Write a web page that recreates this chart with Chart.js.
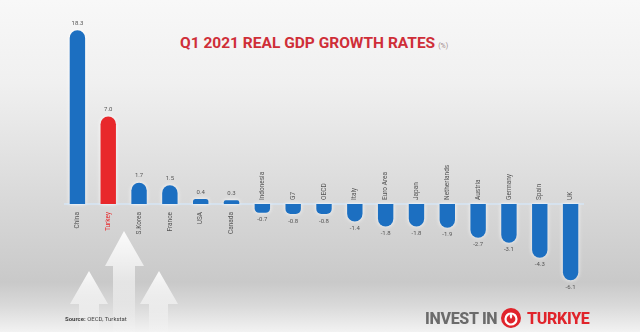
<!DOCTYPE html>
<html>
<head>
<meta charset="utf-8">
<script src="https://cdn.jsdelivr.net/npm/chart.js@4/dist/chart.umd.min.js"></script>
<style>
  html, body { margin: 0; padding: 0; }
  body {
    width: 640px; height: 332px; overflow: hidden; position: relative;
    font-family: Roboto, "Open Sans", sans-serif;
    background: linear-gradient(180deg, #f8f8f8 0%, #f0f0f0 25%, #d9d9d9 60%, #c9c9c9 85%, #d9d9d9 92%, #f2f2f2 100%);
  }
  #deco { position: absolute; left: 0; top: 0; }
  #chart { position: absolute; left: 0; top: 0; }
  .title {
    position: absolute; left: 180px; top: 34px; font-size: 15.5px; font-weight: 700;
    color: #cf2e38; white-space: nowrap;
  }
  .title span { font-size: 7px; font-weight: 400; color: #a08a8a; margin-left: 3px; }
  .source { position: absolute; left: 65px; top: 315px; font-size: 6px; color: #444; }
  .source b { font-weight: 700; }
  .logo { position: absolute; left: 425px; top: 309px; font-size: 16px; font-weight: 800; white-space: nowrap; letter-spacing: -0.3px; }
  .logo .gray { color: #6b6b6b; }
  .logo .red { color: #e0242b; position: absolute; left: 102px; top: 0; }
</style>
</head>
<body>
<svg id="deco" width="640" height="332">
  <defs>
    <linearGradient id="arrowFade" x1="0" y1="0" x2="0" y2="1">
      <stop offset="0" stop-color="#ffffff" stop-opacity="0.9"/>
      <stop offset="0.6" stop-color="#ffffff" stop-opacity="0.45"/>
      <stop offset="1" stop-color="#ffffff" stop-opacity="0.05"/>
    </linearGradient>
  </defs>
  <polygon points="124,231 144,266 135,266 135,332 113,332 113,266 105,266" fill="url(#arrowFade)"/>
  <polygon points="89,271 108,304 99,304 99,332 79,332 79,304 70,304" fill="url(#arrowFade)"/>
  <polygon points="159,271 178,304 168,304 168,332 149,332 149,304 140,304" fill="url(#arrowFade)"/>
  <circle cx="511" cy="318" r="10" fill="#e0242b"/>
  <circle cx="511" cy="319" r="5.5" fill="none" stroke="#ffffff" stroke-width="2.2"/>
  <path d="M511 313 q2.5 3 0 6 q-2.5 -3 0 -6z" fill="#ffffff"/>
</svg>
<div class="title">Q1 2021 REAL GDP GROWTH RATES<span>(%)</span></div>
<canvas id="chart" width="640" height="332"></canvas>
<div class="source"><b>Source:</b> OECD, Turkstat</div>
<div class="logo"><span class="gray">INVEST IN</span><span class="red">TURKIYE</span></div>

<script>
// Data
const countries = ['China', 'Turkey', 'S.Korea', 'France', 'USA', 'Canada', 'Indonesia', 'G7', 'OECD',
                   'Italy', 'Euro Area', 'Japan', 'Netherlands', 'Austria', 'Germany', 'Spain', 'UK'];
const growth = [18.3, 7.0, 1.7, 1.5, 0.4, 0.3, -0.7, -0.8, -0.8, -1.4, -1.8, -1.8, -1.9, -2.7, -3.1, -4.3, -6.1];
const valueLabels = ['18.3', '7.0', '1.7', '1.5', '0.4', '0.3', '-0.7', '-0.8', '-0.8', '-1.4', '-1.8', '-1.8', '-1.9', '-2.7', '-3.1', '-4.3', '-6.1'];
const highlight = 'Turkey';
// the original cuts the tallest bar short (broken axis)
const barCap = 13.9;

const blue = '#1c6fc1';
const red = '#e8282b';

const barColors = countries.map(c => c === highlight ? red : blue);

// soft white glow behind the bars
const glowPlugin = {
  id: 'glow',
  beforeDatasetDraw(chart) {
    chart.ctx.save();
    chart.ctx.shadowColor = 'rgba(255,255,255,0.9)';
    chart.ctx.shadowBlur = 4;
  },
  afterDatasetDraw(chart) {
    chart.ctx.restore();
  }
};

// baseline + labels drawn from the bar elements
const labelPlugin = {
  id: 'gdpLabels',
  beforeDatasetsDraw(chart) {
    const ctx = chart.ctx;
    const y0 = chart.scales.y.getPixelForValue(0);
    ctx.save();
    ctx.strokeStyle = '#d6e2ee';
    ctx.lineWidth = 2;
    ctx.beginPath();
    ctx.moveTo(chart.chartArea.left + 2, y0);
    ctx.lineTo(chart.chartArea.right - 2, y0);
    ctx.stroke();
    ctx.restore();
  },
  afterDatasetsDraw(chart) {
    const ctx = chart.ctx;
    const meta = chart.getDatasetMeta(0);
    const y0 = chart.scales.y.getPixelForValue(0);
    ctx.save();
    ctx.font = '6px Roboto, sans-serif';
    meta.data.forEach((bar, i) => {
      const v = growth[i];
      const isHi = countries[i] === highlight;
      // value label
      ctx.fillStyle = '#555';
      ctx.textAlign = 'center';
      if (v >= 0) {
        ctx.textBaseline = 'bottom';
        ctx.fillText(valueLabels[i], bar.x, bar.y - 4);
      } else {
        ctx.textBaseline = 'top';
        ctx.fillText(valueLabels[i], bar.x, bar.y + 4);
      }
      // category label, rotated
      ctx.save();
      ctx.translate(bar.x, v >= 0 ? y0 + 8 : y0 - 4);
      ctx.rotate(-Math.PI / 2);
      ctx.fillStyle = isHi ? red : '#555';
      ctx.textBaseline = 'middle';
      ctx.textAlign = v >= 0 ? 'right' : 'left';
      ctx.font = '6.5px Roboto, sans-serif';
      ctx.fillText(countries[i], 0, 0);
      ctx.restore();
    });
    ctx.restore();
  }
};

new Chart(document.getElementById('chart'), {
  type: 'bar',
  data: {
    labels: countries,
    datasets: [{
      data: growth.map(v => Math.min(v, barCap)),
      backgroundColor: barColors,
      borderRadius: 8,
      borderSkipped: 'start',
      barPercentage: 0.5,
      categoryPercentage: 1.0
    }]
  },
  options: {
    responsive: false,
    animation: false,
    layout: { padding: { top: 29, bottom: 40.5, left: 62, right: 54 } },
    plugins: {
      legend: { display: false },
      title: { display: false },
      tooltip: { enabled: false }
    },
    scales: {
      x: { display: false, offset: true },
      y: { display: false, min: -7, max: 14 }
    }
  },
  plugins: [glowPlugin, labelPlugin]
});
</script>
</body>
</html>
